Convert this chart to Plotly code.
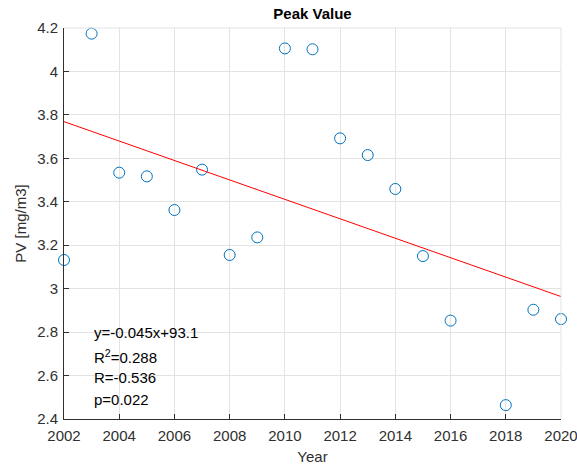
import numpy as np
import plotly.graph_objects as go

years = [2002, 2003, 2004, 2005, 2006, 2007, 2008, 2009, 2010, 2011,
         2012, 2013, 2014, 2015, 2016, 2018, 2019, 2020]
pv = [3.132, 4.174, 3.534, 3.517, 3.362, 3.548, 3.155, 3.236, 4.106, 4.102,
      3.692, 3.615, 3.459, 3.150, 2.853, 2.464, 2.903, 2.860]

x_ticks = list(range(2002, 2021, 2))
y_ticks = [2.4, 2.6, 2.8, 3.0, 3.2, 3.4, 3.6, 3.8, 4.0, 4.2]
y_ticktext = ["2.4", "2.6", "2.8", "3", "3.2", "3.4", "3.6", "3.8", "4", "4.2"]

stats_lines = ["y=-0.045x+93.1", "R<sup>2</sup>=0.288", "R=-0.536", "p=0.022"]
stats_y = [2.796, 2.688, 2.593, 2.492]

slope, intercept = np.polyfit(years, pv, 1)
fit_x = [2002, 2020]
fit_y = [slope * x + intercept for x in fit_x]

font = "Liberation Sans, Arial, sans-serif"
axis_col = "#303030"
grid_col = "#e3e3e3"

fig = go.Figure()
fig.add_trace(go.Scatter(
    x=years, y=pv, mode="markers",
    marker=dict(symbol="circle-open", size=11, color="#0072BD", line=dict(width=1, color="#0072BD")),
    showlegend=False, cliponaxis=False))
fig.add_trace(go.Scatter(
    x=fit_x, y=fit_y, mode="lines",
    line=dict(color="#FF0000", width=1), showlegend=False))

for t, yy in zip(stats_lines, stats_y):
    fig.add_annotation(x=2003, y=yy, xref="x", yref="y", text=t, showarrow=False,
                       xanchor="left", yanchor="middle",
                       font=dict(family=font, size=15, color="#000000"))

fig.update_layout(
    width=577, height=468,
    margin=dict(l=64, r=16, t=28, b=49),
    plot_bgcolor="white", paper_bgcolor="white",
    title=dict(text="<b>Peak Value</b>", x=(64 + 561) / 2 / 577, xanchor="center",
               y=1 - 14 / 468, yanchor="middle",
               font=dict(family=font, size=15, color="#000000")),
    font=dict(family=font, size=15, color=axis_col),
)
fig.update_xaxes(
    range=[2002, 2020], tickmode="array", tickvals=x_ticks,
    showgrid=True, gridcolor=grid_col, gridwidth=1,
    showline=True, linecolor=axis_col, linewidth=1,
    ticks="inside", ticklen=5, tickcolor=axis_col,
    zeroline=False, mirror=False, ticklabelstandoff=3,
    ticklabeloverflow="allow", automargin=False,
    title=dict(text="Year", standoff=8, font=dict(family=font, size=15, color=axis_col)),
    tickfont=dict(family=font, size=15, color=axis_col),
)
fig.update_yaxes(
    range=[2.4, 4.2], tickmode="array", tickvals=y_ticks, ticktext=y_ticktext,
    showgrid=True, gridcolor=grid_col, gridwidth=1,
    showline=True, linecolor=axis_col, linewidth=1,
    ticks="inside", ticklen=5, tickcolor=axis_col,
    zeroline=False, mirror=False, ticklabelstandoff=2,
    ticklabeloverflow="allow", automargin=False,
    title=dict(text="PV [mg/m3]", standoff=6, font=dict(family=font, size=15, color=axis_col)),
    tickfont=dict(family=font, size=15, color=axis_col),
)
fig.add_shape(type="line", xref="paper", yref="paper", x0=1, x1=1, y0=0, y1=1,
              line=dict(color=grid_col, width=1))
fig.add_shape(type="line", xref="paper", yref="paper", x0=0, x1=1, y0=1, y1=1,
              line=dict(color=grid_col, width=1))

fig.write_html("out.html")
